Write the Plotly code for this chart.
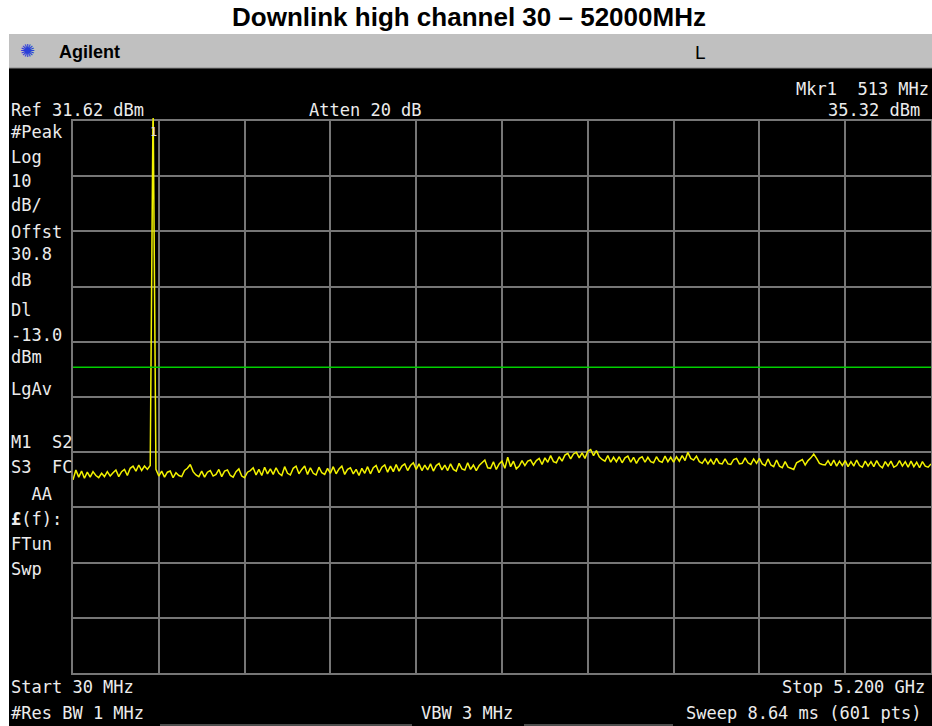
import numpy as np
import plotly.graph_objects as go

W, H = 932, 726

title = "Downlink high channel 30 – 52000MHz"
start_mhz = 30
stop_mhz = 5200
ref_level = 31.62
db_per_div = 10
display_line = -13.0
mkr_freq = 513
mkr_level = 35.32

trace_dbm = [
    -33.4, -31.6, -32.9, -31.8, -33.1, -32.0, -32.9, -31.9, -32.6, -33.0,
    -32.2, -32.8, -31.9, -32.7, -32.1, -31.6, -32.8, -31.9, -31.5, -32.6,
    -31.3, -30.9, -31.8, -30.7, -31.7, -30.9, -31.5, -30.8,
    35.32,
    -31.5, -32.7, -31.8, -32.9, -32.0, -31.8, -33.0, -32.1, -32.6, -32.8, -31.7,
    -31.3, -30.6, -31.9, -32.5, -32.8, -31.8, -32.9, -32.0, -31.7, -32.7,
    -32.4, -31.5, -32.8, -31.8, -31.6, -32.6, -32.9, -31.9, -31.4, -32.7,
    -33.0, -32.0, -31.7, -31.2, -32.5, -31.5, -32.6, -31.1, -32.3, -31.4,
    -32.4, -31.2, -32.2, -32.6, -31.0, -32.2, -32.5, -31.3, -30.9, -32.3,
    -31.5, -30.9, -32.4, -31.2, -32.2, -32.5, -31.1, -32.1, -32.4, -31.3,
    -32.2, -31.0, -32.3, -31.4, -30.9, -32.4, -31.5, -31.2, -32.3, -31.5,
    -32.6, -31.3, -32.2, -31.0, -32.3, -31.2, -30.8, -32.1, -31.1, -30.7,
    -32.0, -30.9, -31.9, -30.6, -31.8, -30.9, -30.5, -31.7, -30.8, -30.3,
    -31.5, -30.5, -31.7, -30.7, -31.6, -30.5, -31.8, -30.8, -30.4, -31.6,
    -30.7, -31.7, -30.5, -31.5, -31.8, -30.4, -31.4, -31.6, -30.3, -31.5,
    -30.7, -31.7, -30.8, -30.2, -29.8, -31.2, -31.3, -30.1, -31.5, -30.5,
    -30.0, -31.3, -29.3, -31.0, -30.0, -31.4, -30.9, -29.9, -30.8, -30.0,
    -29.8, -30.7, -29.9, -29.5, -30.6, -29.4, -30.2, -29.0, -30.1, -30.3,
    -29.2, -30.0, -28.9, -28.6, -29.6, -28.7, -28.4, -29.4, -28.5, -29.5,
    -28.2, -27.9, -29.0, -28.1, -29.2, -29.7, -30.0, -29.0, -30.2, -29.3,
    -30.1, -29.2, -30.3, -29.4, -29.1, -30.2, -29.3, -30.4, -29.5, -29.2,
    -30.2, -29.3, -30.1, -30.3, -29.2, -30.0, -30.2, -29.1, -30.1, -29.3,
    -30.2, -29.2, -30.0, -29.0, -29.9, -28.4, -29.5, -29.8, -29.1, -30.1,
    -30.4, -29.6, -30.5, -29.7, -30.6, -29.5, -30.4, -30.5, -29.6, -30.5,
    -30.6, -29.7, -29.5, -30.5, -30.4, -29.4, -30.3, -30.6, -29.6, -30.4,
    -29.5, -30.5, -30.8, -29.6, -30.7, -31.0, -29.8, -30.9, -31.2, -30.1,
    -31.1, -31.3, -31.5, -30.3, -30.0, -29.7, -30.7, -29.9, -29.4, -28.7,
    -29.5, -30.4, -30.6, -30.7, -29.9, -30.8, -29.8, -30.9, -30.0, -30.8,
    -29.9, -31.0, -30.1, -30.9, -29.8, -30.8, -31.1, -30.0, -30.9, -30.1,
    -31.0, -29.9, -30.8, -31.2, -30.1, -30.9, -30.0, -31.1, -30.8, -29.9,
    -30.9, -30.1, -31.1, -30.0, -31.0, -30.2, -31.2, -30.1, -30.9, -31.1,
    -30.5,
]

left_labels = [
    ("#Peak", 132), ("Log", 157), ("10", 181), ("dB/", 205), ("Offst", 232),
    ("30.8", 254), ("dB", 280), ("Dl", 310), ("-13.0", 335), ("dBm", 357),
    ("LgAv", 389), ("M1  S2", 442), ("S3  FC", 467), ("  AA", 494),
    ("<b>£</b>(f):", 519), ("FTun", 544), ("Swp", 569),
]

freq = np.linspace(start_mhz, stop_mhz, len(trace_dbm))


def px(x):
    return x / W


def py(y):
    return 1 - y / H


GRID_L, GRID_R, GRID_T, GRID_B = 73, 931, 121, 673
MONO = "DejaVu Sans Mono"
TXT = "#ececec"
GRIDC = "#767676"

fig = go.Figure()
fig.add_trace(go.Scatter(
    x=freq, y=trace_dbm, mode="lines",
    line=dict(color="#f2f200", width=1.5), hoverinfo="skip", showlegend=False,
))
fig.add_trace(go.Scatter(
    x=[mkr_freq], y=[ref_level + 1.45], mode="markers", cliponaxis=False,
    marker=dict(symbol="diamond-open", size=10, color="#ffffff", line=dict(width=1.5, color="#ffffff")),
    hoverinfo="skip", showlegend=False,
))

shapes = [
    dict(type="rect", xref="paper", yref="paper", x0=px(9), x1=1, y0=py(68), y1=py(34),
         fillcolor="#c0c0c0", line=dict(width=0), layer="below"),
    dict(type="rect", xref="paper", yref="paper", x0=px(9), x1=1, y0=0, y1=py(68),
         fillcolor="#000000", line=dict(width=0), layer="below"),
    dict(type="line", xref="paper", yref="paper", x0=px(9), x1=1, y0=py(68), y1=py(68),
         line=dict(color="#8a8a8a", width=1)),
    dict(type="line", xref="paper", yref="y", x0=px(GRID_L), x1=px(GRID_R),
         y0=display_line, y1=display_line, line=dict(color="#00d000", width=1.5)),
    dict(type="line", xref="x", yref="paper", x0=mkr_freq, x1=mkr_freq,
         y0=py(GRID_T), y1=py(118), line=dict(color="#f2f200", width=1.5)),
    dict(type="line", xref="paper", yref="paper", x0=px(160), x1=px(412), y0=py(725), y1=py(725),
         line=dict(color="#9a9a9a", width=1)),
    dict(type="line", xref="paper", yref="paper", x0=px(524), x1=px(673), y0=py(725), y1=py(725),
         line=dict(color="#9a9a9a", width=1)),
]

ann = []


def add_text(text, x, y, anchor="left", size=17, color=TXT, family=MONO):
    ann.append(dict(text=text, x=px(x), y=py(y), xref="paper", yref="paper",
                    xanchor=anchor, yanchor="middle", showarrow=False,
                    font=dict(family=family, size=size, color=color)))


for t, yy in left_labels:
    add_text(t, 9, yy)

add_text("Ref 31.62 dBm", 9, 110)
add_text("Atten 20 dB", 307, 110)
add_text("Mkr1  513 MHz", 931, 89, anchor="right")
add_text("35.32 dBm", 922, 110, anchor="right")
add_text("Start 30 MHz", 9, 687)
add_text("Stop 5.200 GHz", 927, 687, anchor="right")
add_text("#Res BW 1 MHz", 9, 713)
add_text("VBW 3 MHz", 419, 713)
add_text("Sweep 8.64 ms (601 pts)", 923, 713, anchor="right")
ann.append(dict(text="1", x=mkr_freq, y=py(132), xref="x", yref="paper",
                xanchor="center", yanchor="middle", showarrow=False,
                font=dict(family=MONO, size=12, color="#dddddd")))

add_text("<b>" + title + "</b>", 469, 17, anchor="center", size=26, color="#000000",
         family="Liberation Sans, Arial")
add_text("✺", 27, 51, anchor="center", size=18, color="#2a3fd8", family="DejaVu Sans")
add_text("<b>Agilent</b>", 57, 52, size=18, color="#000000", family="Liberation Sans, Arial")
add_text("L", 700, 52, anchor="center", size=19, color="#000000", family="Liberation Sans, Arial")

fig.update_layout(
    width=W, height=H, margin=dict(l=0, r=0, t=0, b=0),
    paper_bgcolor="#ffffff", plot_bgcolor="#000000",
    shapes=shapes, annotations=ann, showlegend=False,
    xaxis=dict(domain=[px(GRID_L), px(GRID_R)], range=[start_mhz, stop_mhz],
               tick0=start_mhz, dtick=(stop_mhz - start_mhz) / 10,
               showgrid=True, gridcolor=GRIDC, gridwidth=2, showticklabels=False,
               ticks="", zeroline=False, showline=True, mirror=True,
               linecolor=GRIDC, linewidth=2, fixedrange=True),
    yaxis=dict(domain=[py(GRID_B), py(GRID_T)],
               range=[ref_level - 10 * db_per_div, ref_level],
               tick0=ref_level, dtick=db_per_div,
               showgrid=True, gridcolor=GRIDC, gridwidth=2, showticklabels=False,
               ticks="", zeroline=False, showline=True, mirror=True,
               linecolor=GRIDC, linewidth=2, fixedrange=True),
)

fig.write_html("out.html", config={"displayModeBar": False},
               post_script="document.body.style.margin='0';document.body.style.padding='0';"
                           "document.body.style.overflow='hidden';")
